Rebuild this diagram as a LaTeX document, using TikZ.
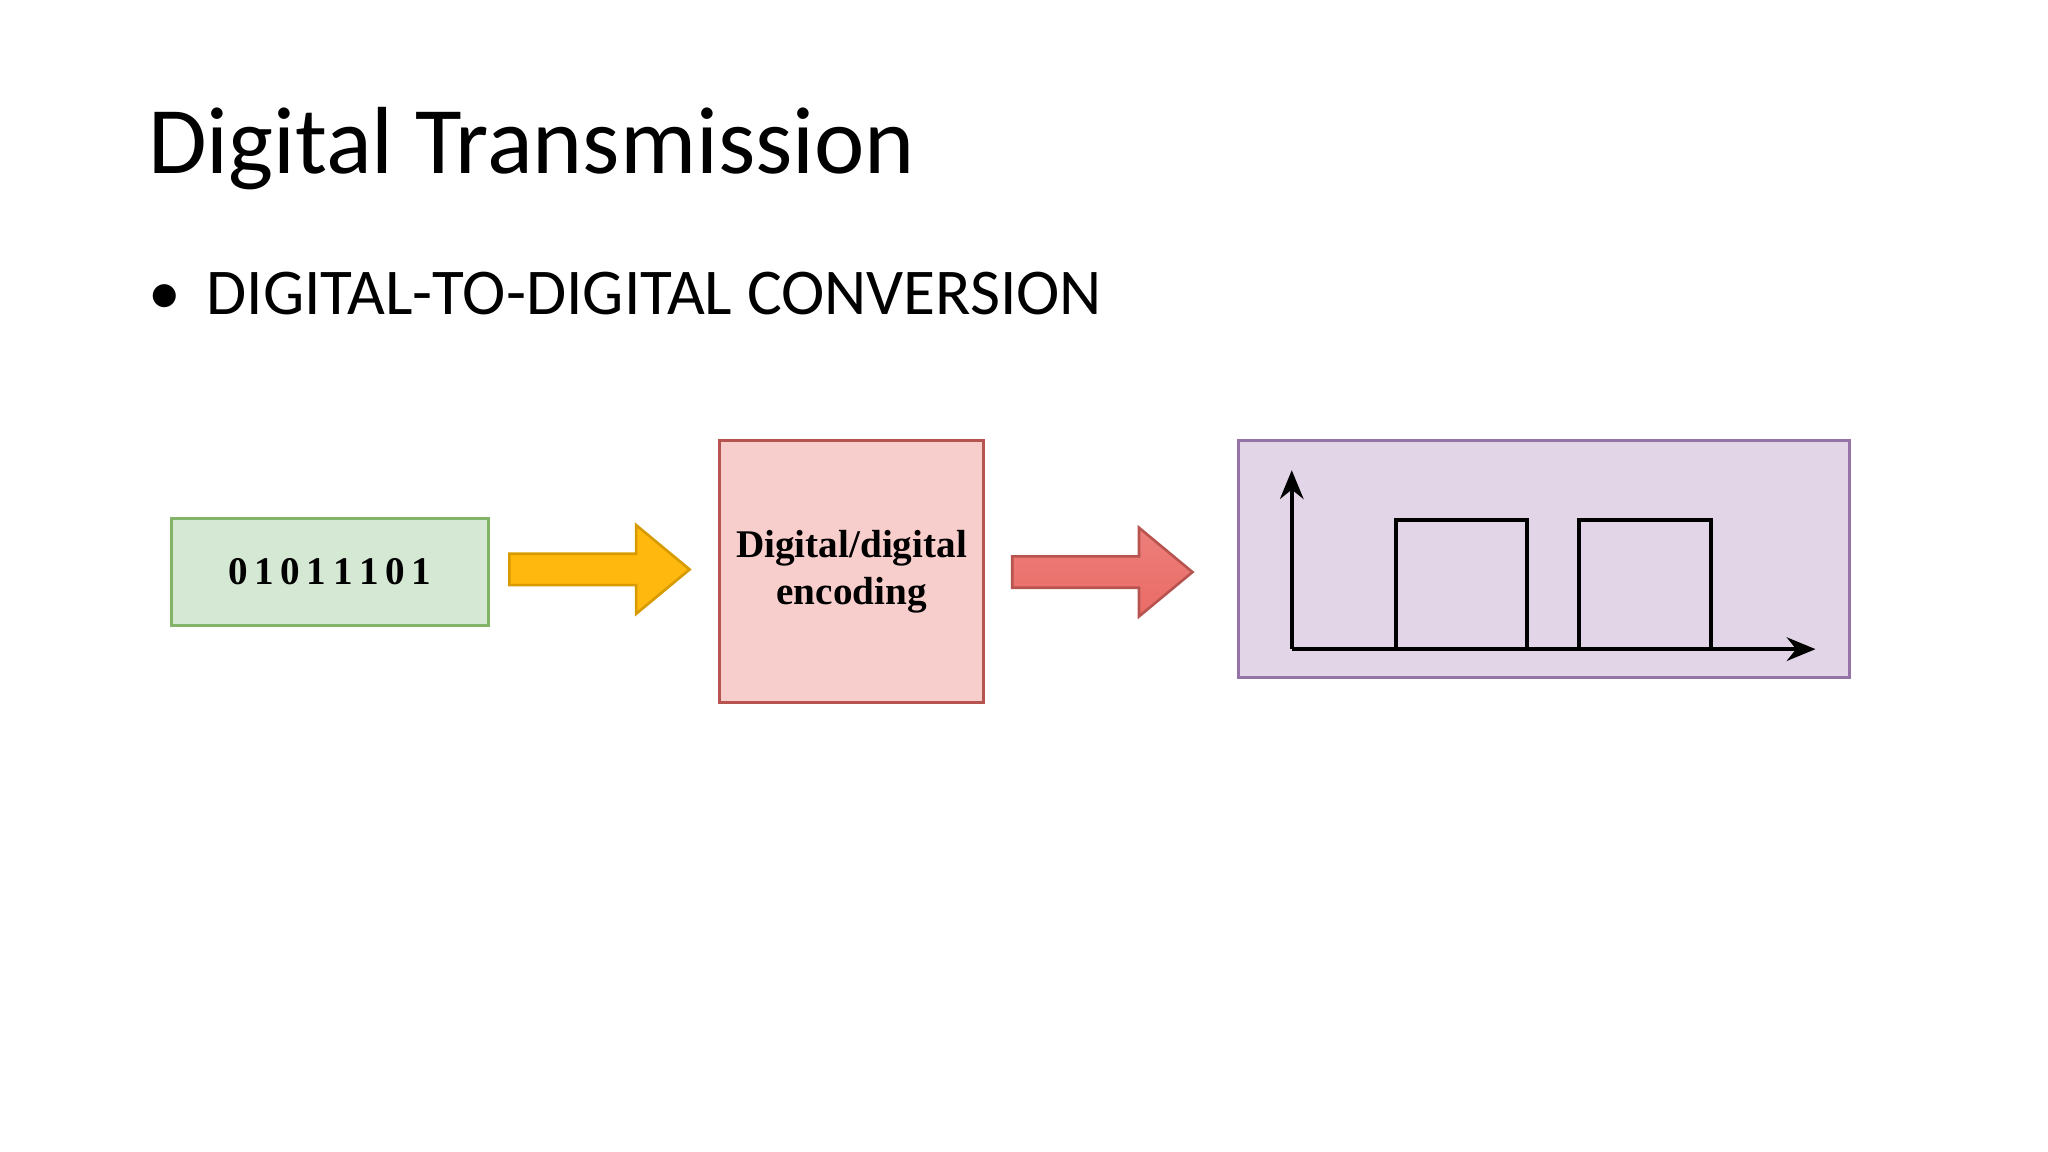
\documentclass[tikz,border=0pt]{standalone}
\usepackage{fontspec}
\setmainfont{Carlito}
\newfontfamily\tnr{Liberation Serif}
\usetikzlibrary{arrows.meta}
\definecolor{gfill}{HTML}{D5E8D4}\definecolor{gdraw}{HTML}{82B366}
\definecolor{yfill}{HTML}{FFB80D}\definecolor{ydraw}{HTML}{D79B00}
\definecolor{rfill}{HTML}{F8CECC}\definecolor{rdraw}{HTML}{B85450}
\definecolor{rdark}{HTML}{EA6B66}
\definecolor{pfill}{HTML}{E1D5E7}\definecolor{pdraw}{HTML}{9673A6}
\begin{document}
\begin{tikzpicture}[x=0.5pt,y=-0.5pt,
  boxtxt/.style={font=\tnr\bfseries\fontsize{15}{18}\selectfont,align=center},
  sig/.style={line width=1.5pt,line join=miter}]
\useasboundingbox (0,0) rectangle (1568,882);
\node[anchor=base west,inner sep=0,font=\fontsize{36.5}{40}\selectfont] (title) at (113,133) {Digital Transmission};
\node[anchor=base west,inner sep=0,font=\fontsize{25}{30}\selectfont] (bul) at (113,241) {•\hspace{0.4em}DIGITAL-TO-DIGITAL CONVERSION};
% green box
\draw[gdraw,fill=gfill,line width=1.2pt] (131,397) rectangle (374,479);
\node[boxtxt] (bits) at (252.5,438) {0\,1\,0\,1\,1\,1\,0\,1};
% yellow arrow
\draw[ydraw,fill=yfill,line width=1pt] (390,424) -- (487,424) -- (487,402) -- (528,436) -- (487,470) -- (487,448) -- (390,448) -- cycle;
% pink box
\draw[rdraw,fill=rfill,line width=1.2pt] (551,337) rectangle (753,538);
\node[boxtxt] (enc) at (652,438) {Digital/digital\\encoding};
% red arrow
\draw[rdraw,top color=rdark!80!rfill,bottom color=rdark,line width=1pt] (775,426) -- (872,426) -- (872,404) -- (913,438) -- (872,472) -- (872,450) -- (775,450) -- cycle;
% purple box
\draw[pdraw,fill=pfill,line width=1.2pt] (948,337) rectangle (1416,519);
\coordinate (o) at (989,497);
\coordinate (yt) at (989,360);
\coordinate (xr) at (1390,497);
\draw[sig,-{Stealth[length=11pt,width=9pt]}] (o) -- (yt);
\draw[sig,-{Stealth[length=11pt,width=9pt]}] (o) -- (xr);
\draw[sig] (o) -- (1069,497) -- (1069,398) -- (1169,398) -- (1169,497) -- (1209,497) -- (1209,398) -- (1310,398) -- (1310,497);
\end{tikzpicture}
\end{document}
